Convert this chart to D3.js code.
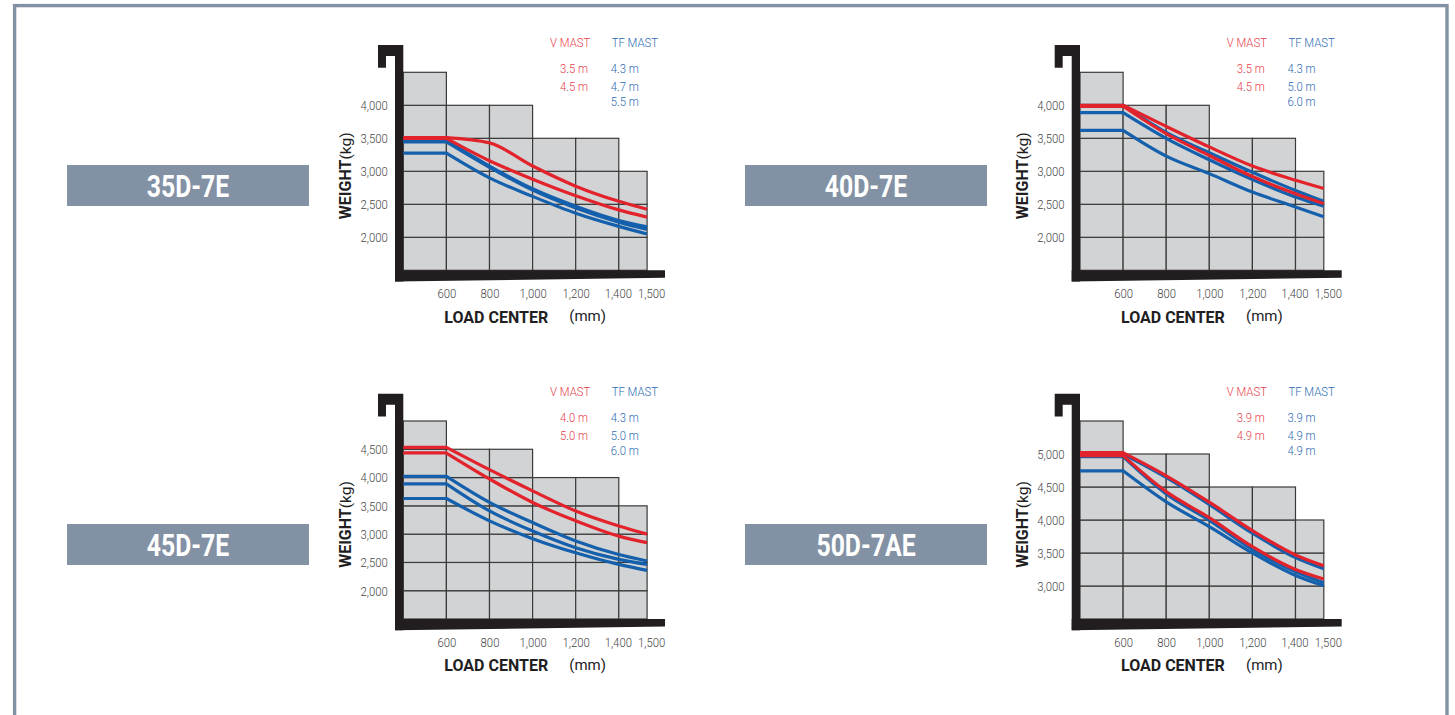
<!DOCTYPE html>
<html>
<head>
<meta charset="utf-8">
<script src="https://cdn.jsdelivr.net/npm/d3@7"></script>
<style>
  body { margin: 0; background: #fff; }
  svg { display: block; }
</style>
</head>
<body>
<script>
// load center break points (mm) and the tick labels under each chart
var xBreaks = [400, 600, 800, 1000, 1200, 1400, 1500];
var xTicks = [600, 800, 1000, 1200, 1400, 1500];

var models = ["35D-7E", "40D-7E", "45D-7E", "50D-7AE"];

// rated capacity (kg) of each 200 mm column (the grey stair shape)
var steps35 = [4500, 4000, 4000, 3500, 3500, 3000];
var steps40 = [4500, 4000, 4000, 3500, 3500, 3000];
var steps45 = [5000, 4500, 4500, 4000, 4000, 3500];
var steps50 = [5500, 5000, 5000, 4500, 4500, 4000];

var yDomain35 = [1500, 4500], yTicks35 = [2000, 2500, 3000, 3500, 4000];
var yDomain40 = [1500, 4500], yTicks40 = [2000, 2500, 3000, 3500, 4000];
var yDomain45 = [1500, 5000], yTicks45 = [2000, 2500, 3000, 3500, 4000, 4500];
var yDomain50 = [2500, 5500], yTicks50 = [3000, 3500, 4000, 4500, 5000];

// mast heights in the legend
var vLabels35 = ["3.5 m", "4.5 m"], tfLabels35 = ["4.3 m", "4.7 m", "5.5 m"];
var vLabels40 = ["3.5 m", "4.5 m"], tfLabels40 = ["4.3 m", "5.0 m", "6.0 m"];
var vLabels45 = ["4.0 m", "5.0 m"], tfLabels45 = ["4.3 m", "5.0 m", "6.0 m"];
var vLabels50 = ["3.9 m", "4.9 m"], tfLabels50 = ["3.9 m", "4.9 m", "4.9 m"];

// capacity curves, one value per xBreaks point
var v35 = [[3510, 3510, 3430, 3080, 2775, 2545, 2425],
           [3500, 3500, 3160, 2880, 2630, 2415, 2305]];
var tf35 = [[3470, 3470, 3080, 2735, 2470, 2255, 2160],
            [3445, 3445, 3060, 2715, 2445, 2230, 2120],
            [3275, 3275, 2900, 2620, 2365, 2165, 2050]];

var v40 = [[4000, 4000, 3680, 3370, 3080, 2865, 2740],
           [3985, 3985, 3570, 3240, 2920, 2660, 2510]];
var tf40 = [[4000, 4000, 3590, 3280, 2985, 2710, 2545],
            [3890, 3890, 3500, 3175, 2875, 2610, 2470],
            [3620, 3620, 3230, 2965, 2685, 2460, 2310]];

var v45 = [[4535, 4535, 4140, 3765, 3410, 3145, 3000],
           [4435, 4435, 3975, 3560, 3235, 2965, 2850]];
var tf45 = [[4020, 4020, 3560, 3205, 2880, 2640, 2525],
            [3890, 3890, 3410, 3055, 2760, 2555, 2465],
            [3630, 3630, 3235, 2920, 2670, 2465, 2360]];

var v50 = [[5020, 5020, 4670, 4270, 3840, 3470, 3305],
           [4975, 4975, 4430, 4035, 3595, 3250, 3105]];
var tf50 = [[5000, 5000, 4645, 4235, 3800, 3430, 3260],
            [4960, 4960, 4395, 3995, 3555, 3215, 3050],
            [4745, 4745, 4275, 3900, 3500, 3160, 3005]];

var panels = [
  {model: models[0], steps: steps35, dom: yDomain35, ticks: yTicks35, vl: vLabels35, tl: tfLabels35, v: v35, tf: tf35},
  {model: models[1], steps: steps40, dom: yDomain40, ticks: yTicks40, vl: vLabels40, tl: tfLabels40, v: v40, tf: tf40},
  {model: models[2], steps: steps45, dom: yDomain45, ticks: yTicks45, vl: vLabels45, tl: tfLabels45, v: v45, tf: tf45},
  {model: models[3], steps: steps50, dom: yDomain50, ticks: yTicks50, vl: vLabels50, tl: tfLabels50, v: v50, tf: tf50}
];

// layout
var width = 1455, height = 715;
var origins = [[403.3, 72.3], [1080, 72.3], [403.3, 421], [1080, 421]];
var boxes = [[67, 165], [745, 165], [67, 524], [745, 524]];
var W = 244, H = 198;
var colW = 43.1, lastW = 28.3;

var RED = "#e3232c", BLUE = "#1560ad", BLACK = "#221e1f";
var RED_TXT = "#e8404a", BLUE_TXT = "#2e6cb4", TICK = "#444";
var FONT = "Roboto, 'DejaVu Sans', sans-serif";
var SX = 0.84; // horizontal squeeze for the light condensed labels

var svg = d3.select("body").append("svg")
    .attr("width", width)
    .attr("height", height);

// page frame
svg.append("rect")
    .attr("x", 14.6).attr("y", 5.6)
    .attr("width", 1432.4).attr("height", 800)
    .attr("fill", "none")
    .attr("stroke", "#8391a4")
    .attr("stroke-width", 3.4);

var x = d3.scaleLinear()
    .domain([400, 1400, 1500])
    .range([0, 5 * colW, 5 * colW + lastW]);

var curveLine = d3.line().curve(d3.curveMonotoneX).x(function(d) { return x(d[0]); });

// condensed light text
function lightText(g, px, py, color) {
  return g.append("text")
      .attr("transform", "translate(" + px + "," + py + ") scale(" + SX + ",1)")
      .attr("font-family", FONT)
      .attr("font-weight", 300)
      .attr("font-size", 13.5)
      .attr("fill", color);
}

function mastLabel(g, px, py, s, color) {
  var t = lightText(g, px, py, color);
  var parts = s.split(".");
  t.append("tspan").text(parts[0]);
  t.append("tspan").text(".").attr("fill", "#1d2a4a");
  t.append("tspan").text(parts[1]);
}

function styleTicks(sel) {
  sel.attr("transform", "scale(" + SX + ",1)")
     .attr("font-family", FONT)
     .attr("font-weight", 300)
     .attr("font-size", 13.5)
     .attr("fill", TICK);
}

panels.forEach(function(p, i) {
  var ox = origins[i][0], oy = origins[i][1];

  // title box
  var bx = boxes[i][0], by = boxes[i][1];
  svg.append("rect")
      .attr("x", bx).attr("y", by)
      .attr("width", 242).attr("height", 41)
      .attr("fill", "#8391a4");
  svg.append("text")
      .attr("transform", "translate(" + (bx + 121) + "," + (by + 32) + ") scale(0.8,1)")
      .attr("text-anchor", "middle")
      .attr("font-family", FONT)
      .attr("font-weight", 700)
      .attr("font-size", 31)
      .attr("fill", "#fff")
      .text(p.model);

  var g = svg.append("g").attr("transform", "translate(" + ox + "," + oy + ")");
  var y = d3.scaleLinear().domain(p.dom).range([H, 0]);

  // grey stair of grid cells
  var cells = [];
  p.steps.forEach(function(top, c) {
    for (var v = p.dom[0]; v < top; v += 500) {
      cells.push({x0: xBreaks[c], x1: xBreaks[c + 1], v0: v, v1: v + 500});
    }
  });
  g.selectAll("rect.cell")
    .data(cells)
    .enter().append("rect")
      .attr("class", "cell")
      .attr("x", function(d) { return x(d.x0); })
      .attr("y", function(d) { return y(d.v1); })
      .attr("width", function(d) { return x(d.x1) - x(d.x0); })
      .attr("height", function(d) { return y(d.v0) - y(d.v1); })
      .attr("fill", "#d1d3d4")
      .attr("stroke", "#3a3a3a")
      .attr("stroke-width", 1.2);

  // black frame of the chart (hook, upright, base)
  g.append("path")
      .attr("d", "M-25.3,-27.3H0V" + (H + 11.3) + "L-8.3," + (H + 11.3) + "V-16.3H-17.3V-4.6H-25.3Z")
      .attr("fill", BLACK);
  g.append("path")
      .attr("d", "M-8.3," + H + "H261.7V" + (H + 7.4) + "L-8.3," + (H + 11.3) + "Z")
      .attr("fill", BLACK);

  // curves: flat up to 600 mm, then a smooth fall
  function drawSeries(arr, color) {
    arr.forEach(function(vals) {
      var pts = xBreaks.map(function(xv, k) { return [xv, vals[k]]; });
      var cd = curveLine.y(function(d) { return y(d[1]); })(pts.slice(1));
      var d = "M" + x(pts[0][0]) + "," + y(pts[0][1]) + "L" + cd.slice(1);
      g.append("path")
          .attr("d", d)
          .attr("fill", "none")
          .attr("stroke", color)
          .attr("stroke-width", 3.2)
          .attr("stroke-linejoin", "round");
    });
  }
  drawSeries(p.tf, BLUE);
  drawSeries(p.v, RED);

  // axes
  var yAxis = d3.axisLeft(y).tickValues(p.ticks).tickSize(0).tickPadding(18.4).tickFormat(d3.format(","));
  g.append("g").call(yAxis)
    .call(function(a) { a.select(".domain").remove(); })
    .selectAll("text").call(styleTicks);

  var xAxis = d3.axisBottom(x).tickValues(xTicks).tickSize(0).tickPadding(18.5).tickFormat(d3.format(","));
  g.append("g").attr("transform", "translate(0," + H + ")").call(xAxis)
    .call(function(a) { a.select(".domain").remove(); })
    .selectAll("text").call(styleTicks)
    .attr("dx", function(d) { return d === 1500 ? 4 / SX : d === 1400 ? -1 / SX : 0; });

  // axis titles
  var wt = g.append("text")
      .attr("transform", "translate(-52," + (H / 2 + 4.5) + ") rotate(-90)")
      .attr("text-anchor", "middle")
      .attr("font-family", FONT)
      .attr("fill", BLACK);
  wt.append("tspan").attr("font-weight", 700).attr("font-size", 16).text("WEIGHT");
  wt.append("tspan").attr("font-weight", 400).attr("font-size", 15.5).text("(kg)");

  g.append("text")
      .attr("x", 41).attr("y", H + 52.4)
      .attr("font-family", FONT)
      .attr("font-weight", 700)
      .attr("font-size", 16)
      .attr("fill", BLACK)
      .text("LOAD CENTER");
  g.append("text")
      .attr("x", 166).attr("y", H + 51)
      .attr("font-family", FONT)
      .attr("font-weight", 400)
      .attr("font-size", 15)
      .attr("fill", BLACK)
      .text("(mm)");

  // legend
  lightText(g, 146.7, -25, RED_TXT).text("V MAST");
  lightText(g, 208.4, -25, BLUE_TXT).text("TF MAST");
  var rows = [1, 18.7, 33.7];
  p.vl.forEach(function(s, k) { mastLabel(g, 156.7, rows[k], s, RED_TXT); });
  p.tl.forEach(function(s, k) { mastLabel(g, 207.4, rows[k], s, BLUE_TXT); });
});
</script>
</body>
</html>
